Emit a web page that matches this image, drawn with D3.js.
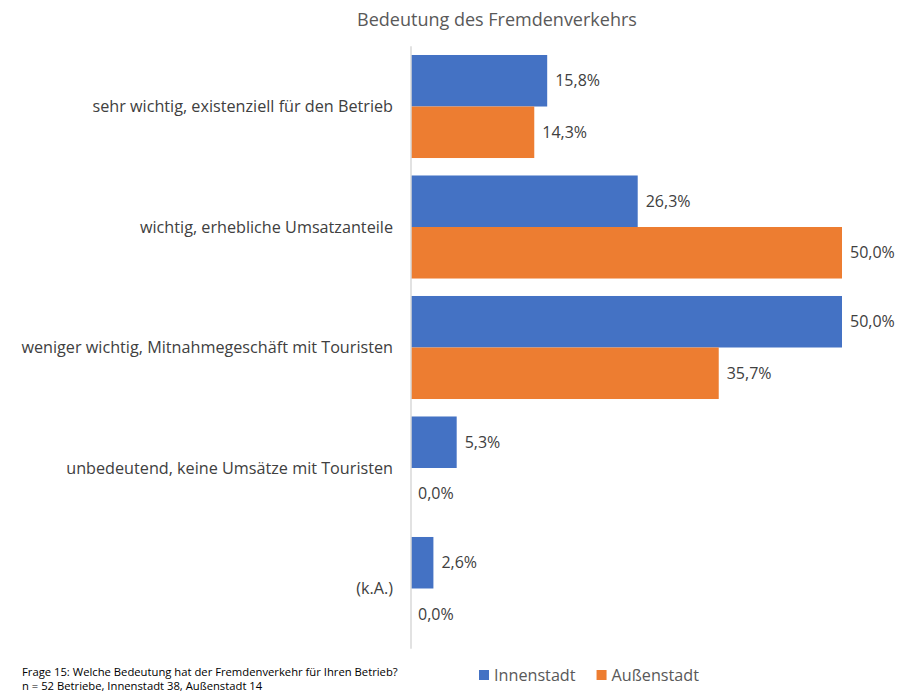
<!DOCTYPE html>
<html><head><meta charset="utf-8">
<script src="https://cdn.jsdelivr.net/npm/d3@7"></script>
<style>body{margin:0;background:#fff}svg{display:block}text{font-family:"Open Sans",Lato,sans-serif}</style>
</head><body>
<svg id="c" width="897" height="692"></svg>
<script>
const categories = ["sehr wichtig, existenziell für den Betrieb","wichtig, erhebliche Umsatzanteile","weniger wichtig, Mitnahmegeschäft mit Touristen","unbedeutend, keine Umsätze mit Touristen","(k.A.)"];
const series = ["Innenstadt","Außenstadt"];
const innenstadt = [15.8, 26.3, 50.0, 5.3, 2.6];
const aussenstadt = [14.3, 50.0, 35.7, 0.0, 0.0];
const colors = ["#4472C4","#ED7D31"];
const title = "Bedeutung des Fremdenverkehrs";
const footnote = ["Frage 15:  Welche Bedeutung hat der Fremdenverkehr für Ihren Betrieb?","n = 52 Betriebe, Innenstadt 38, Außenstadt 14"];

const svg = d3.select("#c");
const values = [innenstadt, aussenstadt];
const x = d3.scaleLinear().domain([0,50]).range([411,842]);
const y = d3.scaleBand().domain(categories).range([46.26,648.74]).paddingInner(0.145).paddingOuter(0.0725);
const ys = d3.scaleBand().domain(series).range([0,y.bandwidth()]);
const fmt = v => d3.format(".1f")(v).replace(".", ",") + "%";

svg.append("text").attr("x",497).attr("y",26).attr("text-anchor","middle").attr("font-size",18).attr("fill","#595959").text(title);

categories.forEach((c,i)=>{
  series.forEach((s,j)=>{
    const v = values[j][i];
    const y0 = y(c)+ys(s);
    svg.append("rect").attr("x",x(0)).attr("y",y0).attr("width",x(v)-x(0)).attr("height",ys.bandwidth()).attr("fill",colors[j]);
    svg.append("text").attr("x",x(v)+ (v>0?8:7)).attr("y",y0+ys.bandwidth()/2).attr("dy","0.35em").attr("font-size",16).attr("fill","#404040").text(fmt(v));
  });
  svg.append("text").attr("x",393).attr("y",y(c)+y.bandwidth()/2).attr("dy","0.35em").attr("text-anchor","end").attr("font-size",16.2).attr("fill","#404040").text(c);
});

svg.append("line").attr("x1",x(0)).attr("x2",x(0)).attr("y1",y.range()[0]).attr("y2",y.range()[1]).attr("stroke","#d9d9d9").attr("stroke-width",1.5);

footnote.forEach((t,i)=>svg.append("text").attr("x",22).attr("y",675.5+i*14.5).attr("font-size",11.25).attr("fill","#000").text(t));

const lg = svg.append("g");
let lx = 479;
series.forEach((s,j)=>{
  lg.append("rect").attr("x",lx).attr("y",670).attr("width",10).attr("height",10).attr("fill",colors[j]);
  const t = lg.append("text").attr("x",lx+15).attr("y",675).attr("dy","0.35em").attr("font-size",16.2).attr("fill","#595959").text(s);
  lx += 15 + t.node().getComputedTextLength() + 21;
});
</script>
</body></html>
